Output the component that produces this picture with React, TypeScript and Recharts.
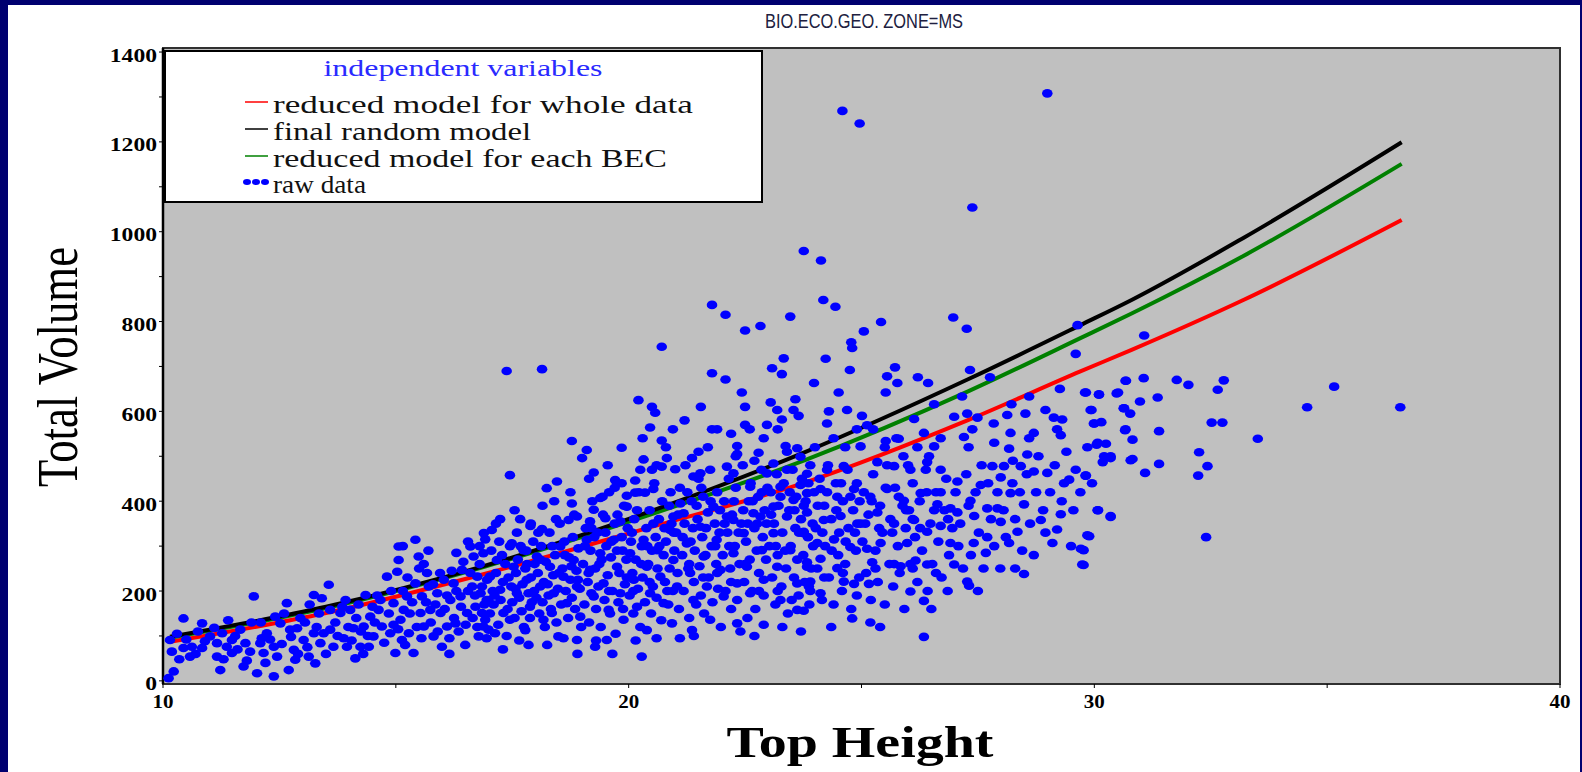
import React from 'react';
import { ComposedChart, Scatter, Line, XAxis, YAxis, CartesianGrid, ReferenceArea } from 'recharts';

// fitted curves: top height -> total volume
const curveH = [10.15, 13.5, 16.9, 20.4, 23.8, 27.3, 29.7, 30.8, 33.2, 36.6];
const redV = [87, 151, 238, 340, 442, 581, 689, 737, 848, 1026];
const blackV = [98, 165, 256, 375, 510, 672, 792, 848, 986, 1199];
const greenV = [96, 162, 254, 368, 492, 645, 763, 818, 946, 1151];

const yTicks = [0, 100, 200, 300, 400, 500, 600, 700, 800, 900, 1000, 1100, 1200, 1300, 1400];
const xTicks = [10, 15, 20, 25, 30, 35, 40];

// raw data, [top height, total volume]
const rawLow: [number, number][] = [
  [10.15,91],[10.19,65],[10.12,6],[10.23,21],[10.44,139],[10.44,73],[10.58,54],[10.62,76],[10.84,128],[10.84,73],
  [11.01,99],[11.16,84],[11.16,54],[11.23,24],[11.27,106],[11.37,76],[11.48,62],[11.48,91],[11.66,114],[11.73,32],
  [11.77,84],[11.87,65],[11.95,188],[12.02,17],[12.09,84],[12.12,95],[12.16,62],[12.23,106],[12.38,76],[12.38,10],
  [12.41,143],[12.45,54],[12.52,128],[12.66,173],[12.70,24],[12.73,114],[12.81,69],[12.84,47],[12.88,117],[13.02,91],
  [13.13,54],[13.24,106],[13.24,191],[13.27,39],[13.38,84],[13.41,184],[13.45,106],[13.56,214],[13.59,158],[13.59,114],
  [13.66,76],[13.81,151],[13.88,95],[13.92,180],[13.95,76],[14.02,158],[14.09,117],[14.13,50],[14.24,76],[14.31,121],
  [14.35,191],[14.42,76],[14.45,143],[14.52,99],[14.63,158],[14.67,180],[14.70,121],[14.81,232],[14.88,106],[14.95,173],
  [14.99,62],[15.03,243],[15.06,299],[15.06,269],[15.10,136],[15.13,91],[15.17,158],[15.24,188],[15.28,106],[15.38,62],
  [15.42,314],[15.42,217],[15.49,277],[15.53,151],[15.56,188],[15.60,121],[15.67,240],[15.71,210],[15.74,158],[15.81,99],
  [15.89,195],[15.96,151],[15.99,76],[16.03,225],[16.10,121],[16.17,180],[16.24,217],[16.28,128],[16.39,188],[16.42,247],
  [16.49,80],[16.53,151],[16.60,299],[16.64,210],[16.67,277],[16.71,165],[16.75,232],[16.78,99],[16.82,195],[16.85,151],
  [16.89,329],[16.92,136],[16.96,225],[16.99,180],[16.99,114],
];

const rawMid: [number, number][] = [
  [21.79,837],[22.08,815],[23.47,811],[22.5,780],[22.83,790],[20.71,744],[23.33,718],[23.08,696],[23.29,683],[17.38,690],
  [18.14,694],[21.79,685],[22.08,671],[22.43,642],[20.21,625],[23.58,627],[20.57,597],[23.19,603],[23.54,603],[23.29,582],
  [22.97,570],[22.5,570],[21.79,560],[20.46,564],[20.71,535],[19.85,519],[18.78,534],[19.10,514],[19.0,496],[22.33,523],
  [22.33,505],[22.79,508],[23.37,523],[23.62,518],[17.45,458],[19.25,464],[19.71,447],[20.14,446],[20.32,493],[20.5,470],
  [20.71,477],[21.0,471],[21.36,496],[20.82,496],[18.46,444],[18.24,429],[18.78,395],[18.71,358],[19.39,407],[19.25,381],
  [19.96,412],[20.14,419],[20.35,419],[20.53,427],[17.24,360],[17.67,360],[17.89,345],[18.14,338],[17.06,336],[16.92,315],
  [21.39,455],[21.54,462],[22.11,477],[22.25,462],[22.61,432],[22.97,462],[23.11,484],[23.40,470],[23.69,499],[23.69,436],
  [23.26,432],[18.89,366],[19.17,355],[19.50,362],[19.82,355],[19.96,388],[21.11,395],[20.96,366],[21.82,388],[22.25,358],
  [22.68,373],[23.11,388],[23.54,403],[23.83,418],
  [16.88,284],[17.02,232],[16.95,180],[16.88,121],[17.17,269],[17.24,203],[17.31,151],[17.13,106],[17.49,306],[17.53,254],
  [17.6,195],[17.45,136],[17.74,291],[17.81,225],[17.88,165],[17.78,113],[18.03,277],[18.1,210],[18.17,136],[18.31,254],
  [18.39,195],[18.35,151],[18.53,299],[18.6,232],[18.67,173],[18.49,99],[18.82,269],[18.89,210],[18.96,143],[18.89,91],
  [19.1,314],[19.17,247],[19.25,188],[19.28,76],[19.39,284],[19.46,217],[19.57,158],[19.53,91],[19.68,314],[19.75,254],
  [19.82,195],[19.89,136],[20.03,284],[20.11,225],[20.18,165],[20.28,54],[20.32,314],[20.39,254],[20.46,195],[20.39,113],
  [20.61,291],[20.68,232],[20.75,173],[20.93,128],[20.89,336],[20.96,269],[21.04,210],[21.18,373],[21.25,306],[21.32,240],
  [21.39,180],[21.36,113],[21.54,343],[21.61,277],[21.68,210],[21.75,136],[21.89,314],[21.97,247],[22.04,188],[22.11,366],
  [22.25,284],[22.33,217],[22.33,128],[22.47,329],[22.54,254],[22.61,195],[22.83,366],[22.86,291],[22.9,225],[22.9,125],
  [23.11,329],[23.19,254],[23.26,180],[23.40,366],[23.47,291],[23.62,217],[23.62,158],[23.76,329],[23.83,254],[23.87,210],
];

const rawHigh: [number, number][] = [
  [28.99,1308],[24.59,1269],[24.96,1241],[27.38,1054],[23.76,957],[24.13,936],[24.18,848],[24.44,833],[25.42,799],[26.97,809],
  [27.26,784],[25.05,778],[24.78,754],[24.8,741],[24.23,717],[24.75,692],[25.72,698],[25.55,678],[25.77,663],[26.21,676],
  [26.43,663],[23.98,663],[24.51,642],[25.52,642],[27.33,692],[27.76,676],[29.6,728],[29.64,792],[30.67,668],[29.26,650],
  [29.8,642],[30.1,638],[30.48,640],[28.6,633],[28.22,616],[26.56,616],[27.16,633],[24.69,603],[26.13,583],[26.99,588],
  [27.27,595],[27.49,586],[27.84,573],[28.13,592],[28.52,595],[28.95,603],[29.13,586],[29.31,582],[29.92,603],[29.99,573],
  [30.64,607],[30.67,560],[28.7,552],[29.28,547],[30.07,530],[30.21,500],[30.35,496],[30.78,491],[24.26,573],[25.01,590],
  [25.12,569],[24.98,522],[25.52,534],[25.8,539],[26.34,552],[26.56,522],[27.2,543],[27.38,560],[28.2,552],[28.17,517],
  [28.56,504],[27.81,478],[28.06,478],[28.42,478],[28.7,466],[28.99,463],[29.35,440],[29.46,448],[29.81,457],[28.24,440],
  [28.2,418],[27.56,436],[27.99,453],[27.06,444],[26.7,470],[26.41,487],[26.05,470],[25.7,478],[25.34,487],[24.62,478],
  [24.26,470],[23.83,461],[24.12,427],[24.48,410],[24.84,427],[25.19,410],[25.55,427],[25.91,401],[26.27,418],[26.63,393],
  [26.91,384],[27.34,401],[27.7,384],[27.92,384],[28.49,393],[28.85,358],[29.28,371],[30.07,380],[30.35,367],[23.83,375],
  [24.19,358],[24.55,367],[24.91,350],[25.34,375],[25.7,350],[26.13,358],[26.41,332],[26.7,345],[27.06,375],[27.42,367],
  [27.7,320],[27.99,354],[28.35,332],[29.2,337],[29.85,324],[23.76,332],[24.05,307],[24.41,315],[24.76,298],[25.12,294],
  [25.41,307],[25.98,307],[26.91,307],[27.41,307],[27.67,285],[28.17,307],[29.1,307],[29.71,294],[29.74,259],[23.83,264],
  [24.12,272],[24.48,251],[25.23,264],[25.84,255],[26.16,268],[26.41,259],[26.99,259],[28.49,238],[23.9,221],[24.62,221],
  [24.84,216],[25.16,216],[26.05,199],[26.34,178],[27.27,221],[27.31,212],[24.12,195],[23.76,156],[24.8,139],[25.19,130],
  [26.34,98],
];

const rawRight: [number, number][] = [
  [31.07,769],[30.68,668],[31.06,674],[31.77,670],[32.02,659],[32.78,669],[32.65,648],[29.82,642],[30.1,637],[30.51,642],
  [31.36,631],[30.98,622],[29.94,603],[30.63,607],[30.77,595],[30.0,573],[30.15,576],[32.52,575],[32.75,575],[30.66,558],
  [31.39,556],[30.82,537],[30.05,526],[30.25,528],[30.35,500],[32.25,509],[33.51,539],[34.57,609],[35.15,655],[36.57,609],
  [30.18,487],[30.82,494],[31.39,483],[32.43,478],[31.09,463],[29.82,457],[32.23,457],[30.08,380],[30.35,365],[29.89,322],
  [32.4,320],[29.77,291],[29.77,258],
];

// dense core of the cloud
const coreA: [number, number][] = [
  [10.3,105],[10.5,92],[10.7,60],[10.9,88],[10.35,48],[10.75,110],[11.1,118],[11.3,48],[11.55,100],[11.6,70],
  [11.9,130],[11.4,135],[11.8,45],[12.1,130],[12.3,92],[12.55,82],[12.6,150],[12.9,60],[12.95,140],[12.2,40],
  [12.75,98],[13.05,130],[13.15,170],[13.3,120],[13.5,60],[13.7,130],[13.75,100],[13.85,165],[13.98,120],[13.35,150],
  [13.1,75],[14.05,90],[14.15,140],[14.2,170],[14.3,60],[14.4,100],[14.55,130],[14.6,190],[14.75,85],[14.85,150],
  [14.9,200],[14.95,125],[14.5,165],[14.25,110],[15.05,115],[15.15,200],[15.2,80],[15.3,150],[15.35,175],[15.45,120],
  [15.5,250],[15.55,95],[15.65,175],[15.75,130],[15.8,215],[15.85,170],[15.9,110],[15.95,240],[15.6,260],[15.25,230],
  [15.15,300],[15.7,290],[16.05,160],[16.1,190],[16.15,95],[16.2,245],[16.25,140],[16.3,200],[16.35,110],[16.4,165],
  [16.45,265],[16.5,125],[16.55,200],[16.6,240],[16.65,140],[16.7,190],[16.75,120],[16.8,260],[16.85,210],[16.9,170],
  [16.95,95],[16.3,285],[16.55,310],[16.8,300],[16.15,60],
];

const coreB: [number, number][] = [
  [17.02,150],[17.05,290],[17.08,200],[17.1,170],[17.15,240],[17.2,125],[17.22,310],[17.25,180],[17.3,220],[17.35,260],
  [17.38,100],[17.4,160],[17.45,300],[17.48,210],[17.5,175],[17.55,140],[17.58,240],[17.6,330],[17.62,270],[17.65,185],
  [17.7,155],[17.72,215],[17.75,120],[17.78,250],[17.8,290],[17.85,195],[17.88,140],[17.9,230],[17.92,175],[17.95,310],
  [17.98,260],[17.65,90],[17.3,70],[17.85,80],[17.55,380],[17.15,350],
  [18.02,185],[18.05,240],[18.08,150],[18.12,300],[18.15,175],[18.18,220],[18.2,120],[18.22,265],[18.28,190],[18.3,330],
  [18.33,160],[18.38,235],[18.42,280],[18.45,130],[18.48,205],[18.52,350],[18.55,170],[18.58,250],[18.62,310],[18.65,200],
  [18.7,140],[18.72,275],[18.75,225],[18.78,185],[18.8,320],[18.85,160],[18.88,245],[18.92,295],[18.95,205],[18.98,120],
  [18.25,80],[18.6,95],[18.9,60],[18.4,400],[18.75,420],[18.15,390],
  [19.02,260],[19.05,170],[19.08,340],[19.12,220],[19.15,130],[19.18,290],[19.2,195],[19.22,400],[19.28,250],[19.3,160],
  [19.33,330],[19.35,210],[19.4,120],[19.42,270],[19.45,370],[19.48,180],[19.52,300],[19.55,235],[19.58,420],[19.6,150],
  [19.62,275],[19.65,200],[19.7,350],[19.72,105],[19.75,290],[19.78,175],[19.8,240],[19.85,320],[19.88,160],[19.9,390],
  [19.92,215],[19.95,270],[19.98,340],[19.3,90],[19.65,60],[19.15,450],[19.55,480],[19.85,440],
  [20.02,190],[20.05,310],[20.08,240],[20.1,150],[20.12,360],[20.15,270],[20.2,205],[20.22,420],[20.25,120],[20.28,300],
  [20.3,230],[20.35,175],[20.38,340],[20.42,260],[20.45,380],[20.48,150],[20.5,290],[20.52,210],[20.55,440],[20.58,320],
  [20.6,185],[20.62,250],[20.65,360],[20.7,135],[20.72,400],[20.75,280],[20.78,220],[20.8,310],[20.85,170],[20.88,250],
  [20.9,420],[20.92,350],[20.95,200],[20.98,290],[20.15,90],[20.6,95],[20.8,520],[20.3,540],[20.5,610],[20.95,560],
];

const coreC: [number, number][] = [
  [21.02,330],[21.05,240],[21.08,160],[21.1,430],[21.15,280],[21.18,200],[21.2,350],[21.22,480],[21.28,250],[21.3,140],
  [21.33,310],[21.35,400],[21.4,220],[21.42,290],[21.45,170],[21.48,360],[21.5,450],[21.52,255],[21.55,190],[21.58,320],
  [21.6,410],[21.62,150],[21.65,280],[21.7,375],[21.72,230],[21.75,470],[21.78,300],[21.8,175],[21.85,350],[21.88,260],
  [21.9,420],[21.92,205],[21.95,330],[21.98,120],[21.4,100],[21.7,520],[21.2,580],[21.55,610],[21.9,560],[21.1,95],
  [22.02,280],[22.05,400],[22.08,200],[22.12,330],[22.15,450],[22.18,250],[22.2,160],[22.22,370],[22.28,300],[22.3,430],
  [22.33,180],[22.38,260],[22.42,350],[22.45,480],[22.48,220],[22.52,310],[22.55,140],[22.58,400],[22.6,270],[22.62,440],
  [22.65,200],[22.7,340],[22.72,160],[22.75,290],[22.78,410],[22.8,240],[22.85,470],[22.88,320],[22.9,190],[22.92,380],
  [22.95,270],[22.98,430],[22.4,110],[22.7,100],[22.2,550],[22.6,560],[22.9,540],[22.5,610],
  [23.02,300],[23.05,420],[23.08,230],[23.12,350],[23.15,170],[23.18,460],[23.2,280],[23.22,390],[23.28,210],[23.3,330],
  [23.33,440],[23.38,250],[23.42,150],[23.45,380],[23.48,300],[23.52,470],[23.55,230],[23.58,340],[23.6,410],[23.62,270],
  [23.65,190],[23.7,360],[23.72,450],[23.75,280],[23.78,220],[23.8,400],[23.85,320],[23.88,170],[23.9,480],[23.92,250],
  [23.95,350],[23.98,420],[23.3,120],[23.7,110],[23.2,560],[23.65,590],[23.05,620],
];

const coreD: [number, number][] = [
  [24.02,340],[24.05,250],[24.1,450],[24.15,180],[24.2,390],[24.22,300],[24.28,480],[24.3,230],[24.35,360],[24.4,170],
  [24.45,440],[24.5,280],[24.52,330],[24.58,200],[24.6,400],[24.65,260],[24.7,470],[24.72,340],[24.78,160],[24.82,380],
  [24.88,290],[24.9,440],[24.95,230],[24.98,350],[24.35,120],[24.65,520],[24.9,560],[24.3,600],
  [25.02,310],[25.05,420],[25.1,240],[25.15,370],[25.2,180],[25.25,460],[25.3,290],[25.35,220],[25.4,390],[25.45,330],
  [25.5,170],[25.55,480],[25.6,260],[25.62,360],[25.68,210],[25.72,430],[25.78,300],[25.82,240],[25.88,390],[25.92,160],
  [25.95,340],[25.4,120],[25.75,540],[25.25,560],[25.9,500],
  [26.02,380],[26.05,260],[26.1,440],[26.15,320],[26.2,220],[26.25,400],[26.3,290],[26.38,470],[26.42,200],[26.48,350],
  [26.52,260],[26.6,420],[26.65,310],[26.72,230],[26.78,380],[26.82,450],[26.88,280],[26.95,340],[26.5,160],[26.85,200],
  [26.2,520],[26.7,540],
  [27.02,420],[27.08,300],[27.12,350],[27.18,250],[27.25,460],[27.3,390],[27.35,280],[27.45,420],[27.52,330],[27.58,480],
  [27.62,250],[27.72,440],[27.78,360],[27.85,300],[27.92,420],[27.98,250],[27.5,200],[27.3,520],[27.85,530],
  [28.05,380],[28.1,320],[28.25,490],[28.3,360],[28.4,420],[28.45,290],[28.55,460],[28.62,350],[28.75,420],[28.8,500],
  [28.9,380],[28.95,330],[28.3,250],[28.7,280],[28.6,540],
  [29.05,420],[29.15,480],[29.3,400],[29.4,510],[29.55,380],[29.6,470],[29.7,420],[29.85,520],[29.95,440],[29.5,300],
  [29.2,560],
];

const coreE: [number, number][] = [
  [17.12,190],[17.28,280],[17.42,230],[17.57,205],[17.68,300],[17.82,260],[17.97,200],[18.1,270],[18.26,215],[18.36,300],
  [18.5,240],[18.63,280],[18.77,255],[18.91,225],[18.06,330],[18.44,360],[18.83,370],[17.9,350],
  [19.06,300],[19.14,240],[19.26,320],[19.37,260],[19.5,330],[19.63,310],[19.76,370],[19.87,290],[19.96,230],[20.07,330],
  [20.18,380],[20.27,260],[20.4,300],[20.53,350],[20.66,300],[20.77,340],[20.87,390],[20.97,330],[19.44,410],[19.7,430],
  [20.25,470],[20.6,480],[20.1,200],[20.45,220],[20.83,200],[19.58,200],[19.2,340],
  [21.06,370],[21.16,320],[21.26,420],[21.38,340],[21.46,390],[21.56,430],[21.66,340],[21.76,400],[21.86,300],[21.96,380],
  [22.06,350],[22.16,300],[22.26,400],[22.36,330],[22.46,380],[22.56,350],[22.66,400],[22.76,350],[22.86,420],[22.96,350],
  [21.3,260],[21.6,230],[21.9,240],[22.2,220],[22.5,260],[22.8,200],[21.5,510],[22.3,500],[22.7,490],
  [23.06,370],[23.16,300],[23.26,410],[23.36,290],[23.46,420],[23.56,380],[23.66,330],[23.76,390],[23.86,440],[23.96,300],
  [24.06,390],[24.16,330],[24.26,420],[24.36,290],[24.46,380],[24.56,440],[24.66,310],[24.76,410],[24.86,330],[24.96,400],
  [23.2,200],[23.5,180],[23.9,200],[24.2,230],[24.6,240],[24.9,190],[23.4,510],[24.0,520],[24.4,540],
  [25.08,350],[25.22,400],[25.38,340],[25.52,430],[25.66,330],[25.8,410],[25.96,380],[26.1,360],[26.26,340],[26.4,420],
  [26.56,380],[26.7,420],[26.86,360],[25.3,250],[25.7,260],[26.1,250],[26.6,240],[25.5,520],[26.0,480],[26.45,500],
];

const toPts = (rows: [number, number][]) => rows.map(([h, v]) => ({ h, v }));
const rawPoints = [rawLow, rawMid, rawHigh, rawRight, coreA, coreB, coreC, coreD, coreE].flatMap(toPts);
const curve = (vals: number[]) => curveH.map((h, i) => ({ h, v: vals[i] }));

const SERIF = '"Liberation Serif", "Times New Roman", serif';

const Dot = (props: any) => {
  const { cx, cy } = props;
  if (cx == null || cy == null) return null;
  return <ellipse cx={cx} cy={cy} rx={5.3} ry={4.3} fill="#0000ff" />;
};

const YTick = ({ x, y, payload }: any) => {
  if (payload.value % 200 !== 0) return null;
  const s = String(payload.value);
  return (
    <text x={x} y={y + 3} textAnchor="end" dominantBaseline="central" fontFamily={SERIF} fontWeight="bold"
      fontSize={19} textLength={s.length * 11.8} lengthAdjust="spacingAndGlyphs" fill="#000">{s}</text>
  );
};

const XTick = ({ x, y, payload }: any) => {
  if (payload.value % 10 !== 0) return null;
  const s = String(payload.value);
  return (
    <text x={x} y={y + 18} textAnchor="middle" fontFamily={SERIF} fontWeight="bold"
      fontSize={19} textLength={s.length * 10.5} lengthAdjust="spacingAndGlyphs" fill="#000">{s}</text>
  );
};

const legendRows = [
  { label: 'reduced model for whole data', color: '#ff0000', len: 420 },
  { label: 'final random model', color: '#000000', len: 258 },
  { label: 'reduced model for each BEC', color: '#008000', len: 394 },
];

const App = () => {
  return (
    <div style={{ position: 'absolute', left: 0, top: 0, width: 1582, height: 772, background: '#000070' }}>
      <div style={{ position: 'absolute', left: 8, top: 5, width: 1572, height: 767, background: '#ffffff' }}>
        <ComposedChart width={1572} height={767} margin={{ top: 43, right: 20, bottom: 0, left: 0 }}>
          <CartesianGrid fill="#c0c0c0" fillOpacity={1} stroke="none" />
          <XAxis type="number" dataKey="h" domain={[10, 40]} ticks={xTicks} interval={0} height={88}
            axisLine={{ stroke: '#303030', strokeWidth: 2 }} tickLine={{ stroke: '#000' }} tickSize={4} tickMargin={2}
            tick={<XTick />} />
          <YAxis type="number" dataKey="v" domain={[-7, 1409]} ticks={yTicks} interval={0} width={155}
            axisLine={{ stroke: '#000', strokeWidth: 2.5 }} tickLine={{ stroke: '#000' }} tickSize={4} tickMargin={2}
            tick={<YTick />} />
          <ReferenceArea x1={10} x2={40} y1={-7} y2={1409} fill="none" stroke="#303030" strokeWidth={2} />
          <Line data={curve(redV)} dataKey="v" type="monotone" stroke="#ff0000" strokeWidth={4} dot={false} isAnimationActive={false} />
          <Line data={curve(greenV)} dataKey="v" type="monotone" stroke="#008000" strokeWidth={4} dot={false} isAnimationActive={false} />
          <Line data={curve(blackV)} dataKey="v" type="monotone" stroke="#000000" strokeWidth={4} dot={false} isAnimationActive={false} />
          <Scatter data={rawPoints} dataKey="v" shape={<Dot />} isAnimationActive={false} />
        </ComposedChart>
        <svg width={1572} height={767} style={{ position: 'absolute', left: 0, top: 0, pointerEvents: 'none' }}>
          <text x={856} y={23} textAnchor="middle" fontFamily='"Liberation Sans", Arial, sans-serif' fontSize={21}
            textLength={198} lengthAdjust="spacingAndGlyphs" fill="#202040">BIO.ECO.GEO. ZONE=MS</text>
          <text transform="translate(50,362) scale(1.3,1) rotate(-90)" textAnchor="middle" dominantBaseline="central"
            fontFamily={SERIF} fontSize={44} textLength={240} lengthAdjust="spacingAndGlyphs" fill="#000">Total Volume</text>
          <text x={852} y={752} textAnchor="middle" fontFamily={SERIF} fontWeight="bold" fontSize={45}
            textLength={267} lengthAdjust="spacingAndGlyphs" fill="#000">Top Height</text>
          <rect x={157} y={46} width={597} height={151} fill="#ffffff" stroke="#000" strokeWidth={2} />
          <text x={455} y={71} textAnchor="middle" fontFamily={SERIF} fontSize={23}
            textLength={279} lengthAdjust="spacingAndGlyphs" fill="#2a2aff">independent variables</text>
          {legendRows.map((r, i) => (
            <g key={r.label}>
              <line x1={237} x2={260} y1={97 + i * 27} y2={97 + i * 27} stroke={r.color} strokeWidth={1.5} />
              <text x={265} y={108 + i * 27} fontFamily={SERIF} fontSize={25} textLength={r.len}
                lengthAdjust="spacingAndGlyphs" fill="#111">{r.label}</text>
            </g>
          ))}
          <g>
            {[239, 248, 257].map((cx) => (
              <ellipse key={cx} cx={cx} cy={177} rx={4} ry={3} fill="#0000ff" />
            ))}
            <text x={265} y={188} fontFamily={SERIF} fontSize={25} textLength={93}
              lengthAdjust="spacingAndGlyphs" fill="#111">raw data</text>
          </g>
        </svg>
      </div>
    </div>
  );
};

export default App;
